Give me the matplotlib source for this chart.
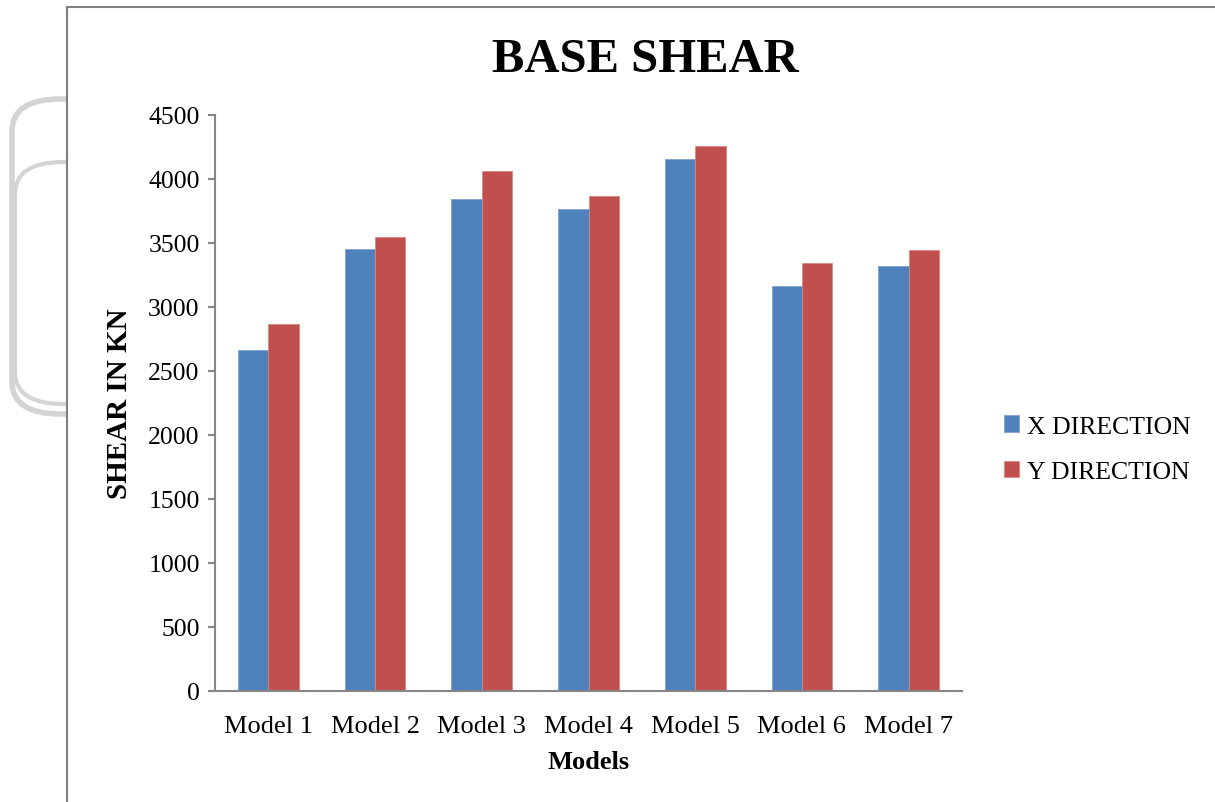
import numpy as np
import matplotlib
matplotlib.use("Agg")
import matplotlib.pyplot as plt
from matplotlib.patches import FancyBboxPatch, Rectangle
from matplotlib.lines import Line2D

plt.rcParams['font.family'] = ['Liberation Serif', 'DejaVu Serif']

models = ['Model 1', 'Model 2', 'Model 3', 'Model 4', 'Model 5', 'Model 6', 'Model 7']
x_dir = [2665, 3453, 3841, 3766, 4154, 3161, 3320]
y_dir = [2865, 3544, 4062, 3865, 4258, 3341, 3445]
yticks = [0, 500, 1000, 1500, 2000, 2500, 3000, 3500, 4000, 4500]

W, H = 1215, 803
fig = plt.figure(figsize=(W / 100, H / 100), dpi=100)

def px(x0, y0, x1, y1):
    # pixel box (from top-left) -> figure fraction [l, b, w, h]
    return [x0 / W, 1 - y1 / H, (x1 - x0) / W, (y1 - y0) / H]

# grey bracket left over from the scanned page
for (x0, y0, y1, lw) in [(12, 100, 415, 4), (15, 163, 405, 3)]:
    p = FancyBboxPatch((x0 / W, 1 - y1 / H), (120 - x0) / W, (y1 - y0) / H,
                       boxstyle="round,pad=0,rounding_size=0.04",
                       transform=fig.transFigure, fill=False,
                       edgecolor='#d4d4d4', linewidth=lw, zorder=0)
    fig.add_artist(p)
fig.add_artist(Rectangle((67.5 / W, 0), 1, 1, transform=fig.transFigure,
                         facecolor='white', edgecolor='none', zorder=1))
# chart area border (left and top)
fig.add_artist(Line2D([67 / W, 67 / W], [0, 1 - 7.5 / H], transform=fig.transFigure,
                      color='#7f7f7f', lw=1.5, zorder=2))
fig.add_artist(Line2D([67 / W, 1], [1 - 7.5 / H, 1 - 7.5 / H], transform=fig.transFigure,
                      color='#7f7f7f', lw=1.5, zorder=2))

ax = fig.add_axes(px(215, 116, 962, 692))
ax.set_zorder(3)
idx = np.arange(len(models))
bw = 0.284
ax.bar(idx - bw / 2, x_dir, bw, color='#4F81BD', edgecolor='#7fa3d0', linewidth=0.6,
       label='X DIRECTION')
ax.bar(idx + bw / 2, y_dir, bw, color='#C0504D', edgecolor='#d98683', linewidth=0.6,
       label='Y DIRECTION')

ax.set_xlim(-0.5, len(models) - 0.5)
ax.set_ylim(0, 4500)
ax.set_yticks(yticks)
ax.set_xticks(idx)
ax.set_xticklabels(models)
ax.tick_params(axis='x', length=0, labelsize=19, pad=17)
ax.tick_params(axis='y', length=5, width=1.5, color='#868686', labelsize=18.5, pad=6)
for s in ['top', 'right']:
    ax.spines[s].set_visible(False)
for s in ['left', 'bottom']:
    ax.spines[s].set_color('#868686')
    ax.spines[s].set_linewidth(1.5)

ax.set_xlabel('Models', fontsize=19, fontweight='bold', labelpad=10)
ax.set_ylabel('SHEAR IN KN', fontsize=21, fontweight='bold', labelpad=11)

fig.text(645 / W, 1 - 60 / H, 'BASE SHEAR', ha='center', va='center',
         fontsize=35, fontweight='bold')

ax.legend(loc='center left', bbox_to_anchor=(1.025, 0.42), frameon=False,
          fontsize=18.5, handlelength=0.6, handleheight=0.6, handletextpad=0.3,
          labelspacing=0.9)

fig.savefig('out.png', dpi=100)
